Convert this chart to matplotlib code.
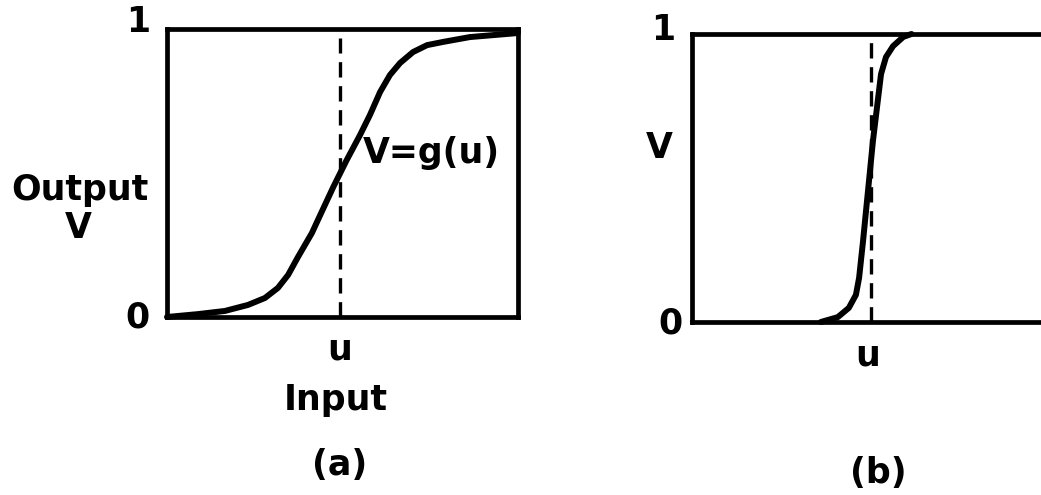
import matplotlib.pyplot as plt

# ----------------------------------------------------------
# Curve values (x, V in unit box)
# ----------------------------------------------------------

# (a) gentle sigmoid
a_u = [0.0, 0.088, 0.165, 0.231, 0.279, 0.316, 0.345, 0.373, 0.413,
       0.43, 0.474, 0.512, 0.55, 0.578, 0.607, 0.635, 0.664, 0.701,
       0.741, 0.786, 0.863, 1.0]
a_v = [0.0, 0.01, 0.021, 0.042, 0.066, 0.101, 0.146, 0.208, 0.292,
       0.337, 0.452, 0.545, 0.632, 0.701, 0.781, 0.84, 0.882, 0.92,
       0.944, 0.955, 0.972, 0.986]
a_u0 = 0.493

# (b) steep sigmoid
b_u = [0.364, 0.412, 0.443, 0.463, 0.472, 0.483, 0.497, 0.511, 0.526,
       0.534, 0.548, 0.568, 0.597, 0.62]
b_v = [0.0, 0.017, 0.049, 0.094, 0.153, 0.279, 0.453, 0.627, 0.78,
       0.861, 0.92, 0.958, 0.99, 1.0]
b_u0 = 0.506

W, H = 1041, 495
fig = plt.figure(figsize=(W / 100, H / 100), dpi=100)


def px(x, y):
    return x / W, 1 - y / H


def make_axes(left, top, right, bottom):
    x0, y0 = px(left, bottom)
    x1, y1 = px(right, top)
    ax = fig.add_axes([x0, y0, x1 - x0, y1 - y0])
    ax.set_xlim(0, 1)
    ax.set_ylim(0, 1)
    ax.set_xticks([])
    ax.set_yticks([])
    for s in ax.spines.values():
        s.set_linewidth(3.4)
        s.set_capstyle('projecting')
    return ax


font = dict(family='DejaVu Sans', fontsize=25, fontweight='bold',
            color='black', ha='center', va='center')

curve_style = dict(color='black', lw=4.3, solid_capstyle='round',
                   solid_joinstyle='round', clip_on=False)
dash_style = dict(color='black', lw=2.4, dashes=(4.6, 2.6))

# ----------------------------------------------------------
# Panel (a)
# ----------------------------------------------------------
ax_a = make_axes(167, 29, 518, 317)
ax_a.plot(a_u, a_v, **curve_style)
ax_a.plot([a_u0, a_u0], [0, 0.97], **dash_style)

fig.text(*px(138, 22), '1', **font)
fig.text(*px(137, 318), '0', **font)
fig.text(*px(80, 190), 'Output', **font)
fig.text(*px(78, 228), 'V', **font)
fig.text(*px(431, 153), 'V=g(u)', **font)
fig.text(*px(340, 349), 'u', **font)
fig.text(*px(336, 400), 'Input', **font)
fig.text(*px(340, 465), '(a)', **font)

# ----------------------------------------------------------
# Panel (b)
# ----------------------------------------------------------
ax_b = make_axes(692, 34, 1046, 322)
ax_b.plot(b_u, b_v, **curve_style)
ax_b.plot([b_u0, b_u0], [0, 1], **dash_style)

fig.text(*px(663, 30), '1', **font)
fig.text(*px(659, 148), 'V', **font)
fig.text(*px(670, 324), '0', **font)
fig.text(*px(868, 356), 'u', **font)
fig.text(*px(878, 473), '(b)', **font)

fig.savefig('out.png', dpi=100)
